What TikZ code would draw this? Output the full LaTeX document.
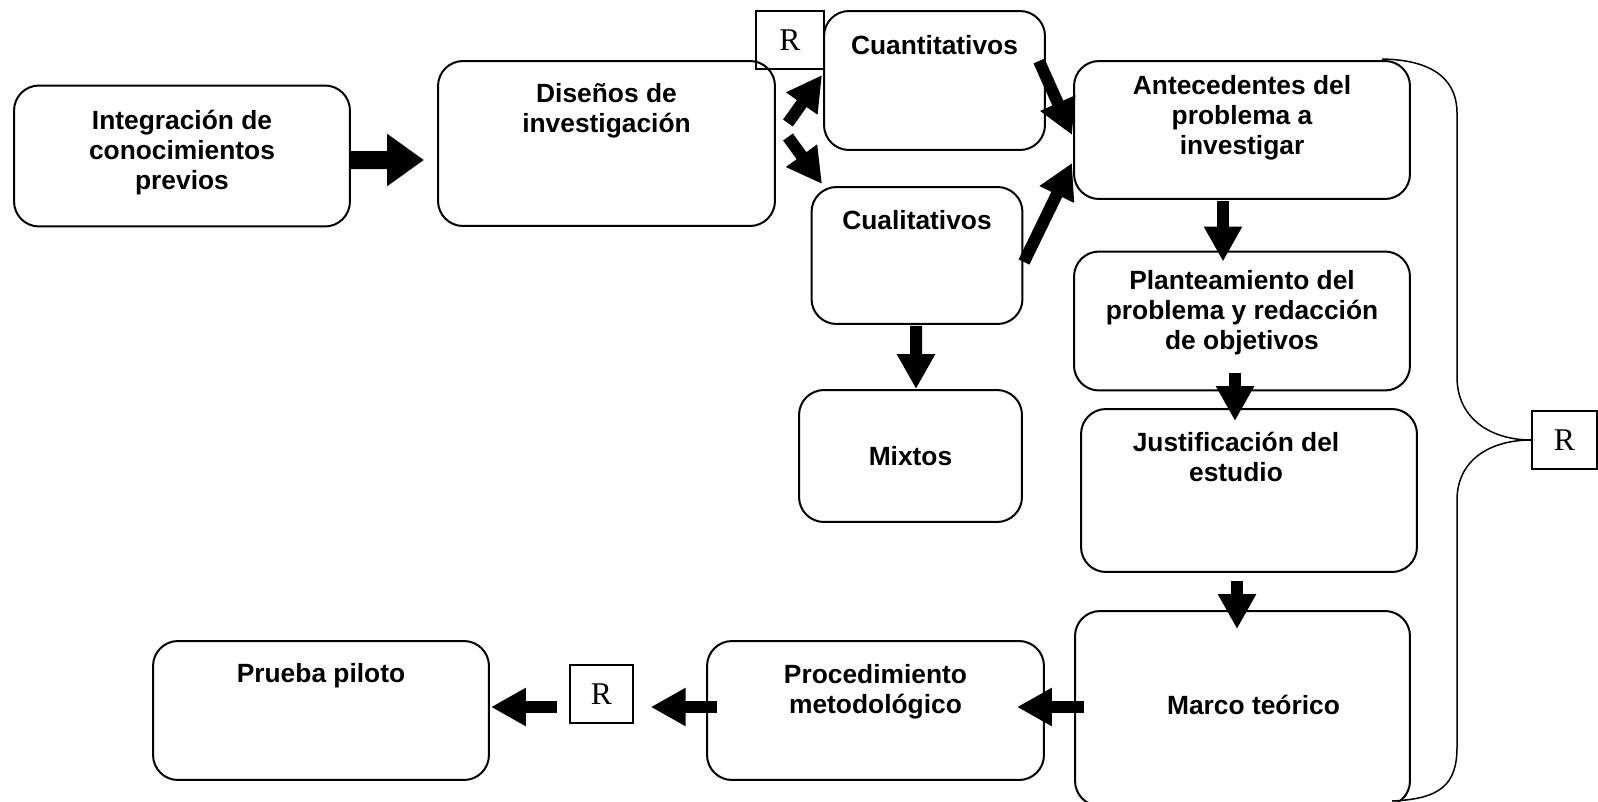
\documentclass[tikz,border=0pt]{standalone}
\usepackage{fontspec}
\setmainfont{Liberation Sans}
\newfontfamily\rfont{Liberation Serif}
\usetikzlibrary{arrows.meta,positioning}
\begin{document}
\begin{tikzpicture}[x=0.02cm,y=-0.02cm,
  caja/.style={draw,line width=0.04cm,rounded corners=0.5cm,inner sep=0pt,align=center,
    font=\fontsize{15}{17}\selectfont\bfseries},
  txt/.style={inner sep=0pt,align=center,font=\fontsize{15}{17}\selectfont\bfseries},
  rbox/.style={draw,line width=0.03cm,inner sep=0pt,font=\rfont\fontsize{18}{18}\selectfont},
  flecha/.style={line width=0.24cm,-{Triangle[length=0.7cm,width=0.72cm]}},
  gruesa/.style={line width=0.36cm,-{Triangle[length=0.74cm,width=1cm]}}]
\useasboundingbox (0,0) rectangle (1598,801);
\node[caja,minimum width=6.72cm,minimum height=2.82cm] (int) at (182,156) {};
\node[caja,minimum width=6.74cm,minimum height=3.3cm] (dis) at (606.5,143.5) {};
\node[caja,minimum width=4.42cm,minimum height=2.78cm] (cuan) at (934.5,80.5) {};
\node[caja,minimum width=4.22cm,minimum height=2.74cm] (cual) at (917,255.5) {};
\node[caja,minimum width=4.46cm,minimum height=2.64cm] (mix) at (910.5,456) {Mixtos};
\node[caja,minimum width=6.72cm,minimum height=2.76cm] (ant) at (1242,130) {};
\node[caja,minimum width=6.72cm,minimum height=2.78cm] (pla) at (1242,321) {};
\node[caja,minimum width=6.72cm,minimum height=3.26cm] (jus) at (1249,490.5) {};
\node[caja,minimum width=6.7cm,minimum height=3.9cm] (mar) at (1242.5,708.5) {};
\node[caja,minimum width=6.74cm,minimum height=2.78cm] (pro) at (875.5,710.5) {};
\node[caja,minimum width=6.72cm,minimum height=2.78cm] (pru) at (321,710.5) {};
\node[rbox,minimum width=1.36cm,minimum height=1.16cm] (r1) at (790,40) {R};
\node[rbox,minimum width=1.26cm,minimum height=1.16cm] (r2) at (601.5,694) {R};
\node[rbox,minimum width=1.3cm,minimum height=1.16cm] (r3) at (1564.5,440) {R};

\node[txt,below=0.51cm of int.north] (int-t) {Integración de\\conocimientos\\previos};
\node[txt,below=0.47cm of dis.north] (dis-t) {Diseños de\\investigación};
\node[txt,below=0.51cm of cuan.north] (cuan-t) {Cuantitativos};
\node[txt,below=0.49cm of cual.north] (cual-t) {Cualitativos};
\node[txt,below=0.3cm of ant.north] (ant-t) {Antecedentes del\\problema a\\investigar};
\node[txt,below=0.39cm of pla.north] (pla-t) {Planteamiento del\\problema y redacción\\de objetivos};
\node[txt,below=0.47cm of jus.north,xshift=-0.26cm] (jus-t) {Justificación del\\estudio};
\node[txt,xshift=0.22cm] (mar-t) at (1242.5,705) {Marco teórico};
\node[txt,below=0.48cm of pro.north] (pro-t) {Procedimiento\\metodológico};
\node[txt,below=0.46cm of pru.north] (pru-t) {Prueba piloto};

\draw[gruesa] ([shift={(0,4)}]int.east) -- ([shift={(-13,16.5)}]dis.west);
\draw[flecha] ([shift={(12,-20.5)}]dis.east) -- ([shift={(-1,-5.5)}]cuan.west);
\draw[flecha] ([shift={(12,-6.5)}]dis.east) -- ([shift={(11.5,-2)}]cual.north west);
\draw[flecha] ([shift={(-7,51)}]cuan.north east) -- ([shift={(-1,5)}]ant.west);
\draw[flecha] ([shift={(0.5,6.5)}]cual.east) -- ([shift={(-1,33)}]ant.west);
\draw[flecha] ([shift={(-1,1)}]cual.south) -- ([shift={(5.5,0)}]mix.north);
\draw[flecha] ([shift={(-19,1)}]ant.south) -- ([shift={(-19,11)}]pla.north);
\draw[flecha] ([shift={(-7,-18)}]pla.south) -- ([shift={(-14,13)}]jus.north);
\draw[flecha] ([shift={(-12,8)}]jus.south) -- ([shift={(-5.5,19)}]mar.north);
\draw[flecha] ([shift={(10,-1.5)}]mar.west) -- ([shift={(-28,-3.5)}]pro.east);
\draw[flecha] ([shift={(11,-3.5)}]pro.west) -- ([shift={(17,13)}]r2.east);
\draw[flecha] ([shift={(-12,13)}]r2.west) -- ([shift={(1,-3.5)}]pru.east);

\coordinate (b1) at (1382,59);
\coordinate (b2) at (1392,801);
\draw[line width=0.03cm] (b1) .. controls (1440,60) and (1457,85) .. (1457,113) -- (1457,377)
  .. controls (1457,418) and (1490,440) .. (r3.west)
  .. controls (1490,440) and (1457,460) .. (1457,500) -- (1457,747)
  .. controls (1457,785) and (1440,799) .. (b2);
\end{tikzpicture}
\end{document}
